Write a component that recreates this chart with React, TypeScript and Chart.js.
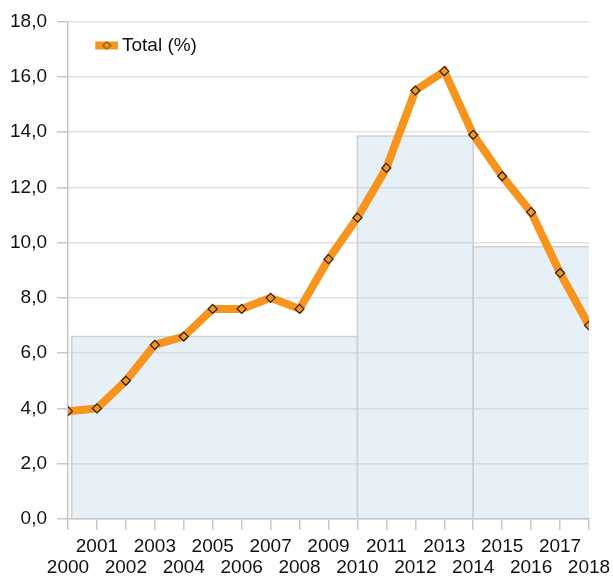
import React, { useEffect, useRef } from "react";
import { Chart, registerables } from "chart.js";

Chart.register(...registerables);

const years = [2000, 2001, 2002, 2003, 2004, 2005, 2006, 2007, 2008, 2009, 2010, 2011, 2012, 2013, 2014, 2015, 2016, 2017, 2018];
const totals = [3.9, 4.0, 5.0, 6.3, 6.6, 7.6, 7.6, 8.0, 7.6, 9.4, 10.9, 12.7, 15.5, 16.2, 13.9, 12.4, 11.1, 8.9, 7.0];
const periodStart = [2000.13, 2010, 2014];
const periodEnd = [2010, 2014, 2018.1];
const periodAvg = [6.6, 13.85, 9.85];
const seriesLabel = "Total (%)";

const ORANGE = "#f7941d";
const TEXT = "#111";
const FONT = "'Liberation Sans', Arial, sans-serif";

function makeLegendImage(): HTMLCanvasElement {
  const c = document.createElement("canvas");
  c.width = 42;
  c.height = 12;
  const ctx = c.getContext("2d")!;
  ctx.fillStyle = ORANGE;
  ctx.fillRect(19, 2, 23, 8);
  const cx = 30.5;
  const cy = 6;
  ctx.beginPath();
  ctx.moveTo(cx, cy - 4);
  ctx.lineTo(cx + 4, cy);
  ctx.lineTo(cx, cy + 4);
  ctx.lineTo(cx - 4, cy);
  ctx.closePath();
  ctx.fillStyle = ORANGE;
  ctx.fill();
  ctx.lineWidth = 1;
  ctx.strokeStyle = "#333";
  ctx.stroke();
  return c;
}

export default function App() {
  const ref = useRef<HTMLCanvasElement | null>(null);

  useEffect(() => {
    if (!ref.current) return;
    const legendImg = makeLegendImage();

    const boxSets = periodStart.map((s, i) => ({
      label: "period" + i,
      data: [
        { x: s, y: 0 },
        { x: s, y: periodAvg[i] },
        { x: periodEnd[i], y: periodAvg[i] },
        { x: periodEnd[i], y: 0 },
      ],
      borderColor: "#cfcfcf",
      borderWidth: 1.5,
      backgroundColor: "rgba(180,205,228,0.3)",
      fill: "origin",
      pointRadius: 0,
      tension: 0,
      order: 2,
    }));

    const chart = new Chart(ref.current, {
      type: "line",
      data: {
        datasets: [
          {
            label: seriesLabel,
            data: years.map((y, i) => ({ x: y, y: totals[i] })),
            borderColor: ORANGE,
            backgroundColor: ORANGE,
            borderWidth: 8,
            pointStyle: "rectRot",
            pointRadius: 4.5,
            pointBorderColor: "#222",
            pointBackgroundColor: ORANGE,
            pointBorderWidth: 1.2,
            tension: 0,
            fill: false,
            order: 1,
          },
          ...boxSets,
        ] as any,
      },
      options: {
        animation: false,
        responsive: false,
        maintainAspectRatio: false,
        layout: { padding: { left: 0, top: 10, right: 2, bottom: 0 } },
        plugins: {
          tooltip: { enabled: false },
          legend: {
            position: "chartArea" as any,
            align: "start",
            title: { display: true, text: "", padding: { top: 21, bottom: 0 }, font: { size: 1, lineHeight: 1 } },
            labels: {
              usePointStyle: true,
              pointStyleWidth: 30.5,
              boxHeight: 12,
              padding: 14,
              color: TEXT,
              font: { family: FONT, size: 19 },
              generateLabels: () => [
                {
                  text: seriesLabel,
                  pointStyle: legendImg as any,
                  fillStyle: ORANGE,
                  strokeStyle: ORANGE,
                  lineWidth: 0,
                  hidden: false,
                  datasetIndex: 0,
                  fontColor: TEXT,
                } as any,
              ],
            },
          },
        },
        scales: {
          x: {
            type: "linear",
            min: 2000,
            max: 2018,
            offset: false,
            border: { color: "#c8c8c8", width: 1.5 },
            grid: { drawOnChartArea: false, drawTicks: true, tickLength: 11, color: "#c8c8c8", lineWidth: 1.5 },
            afterFit: (s: any) => {
              s.paddingRight = 24;
              s.height = 63;
            },
            ticks: {
              stepSize: 1,
              autoSkip: false,
              maxRotation: 0,
              minRotation: 0,
              padding: 6,
              color: TEXT,
              font: { family: FONT, size: 19, lineHeight: 1.12 },
              callback: (v: any) => {
                const n = Math.round(Number(v));
                return n % 2 === 1 ? [String(n), ""] : ["", String(n)];
              },
            },
          },
          y: {
            min: 0,
            max: 18,
            border: { color: "#c8c8c8", width: 1.5 },
            grid: { color: "#e2e2e2", lineWidth: 1.5, tickLength: 11, tickColor: "#c8c8c8" },
            ticks: {
              stepSize: 2,
              padding: 10,
              color: TEXT,
              font: { family: FONT, size: 19 },
              callback: (v: any) => Number(v).toFixed(1).replace(".", ","),
            },
          },
        },
      } as any,
    });
    return () => chart.destroy();
  }, []);

  return (
    <div style={{ position: "absolute", left: 0, top: 0, width: 613, height: 582 }}>
      <canvas ref={ref} width={613} height={582} style={{ width: 613, height: 582 }} />
    </div>
  );
}
